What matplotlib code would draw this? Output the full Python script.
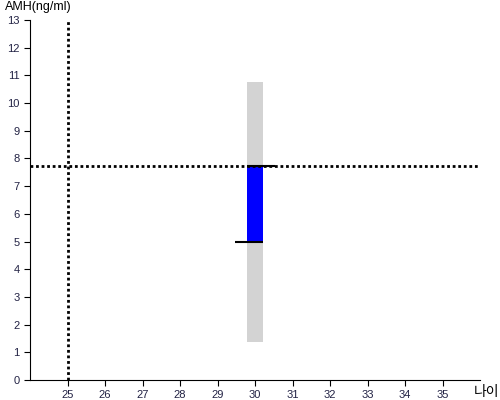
import matplotlib
matplotlib.use("Agg")
import matplotlib.pyplot as plt

plt.rcParams['font.family'] = ['Liberation Sans', 'Noto Sans CJK KR', 'DejaVu Sans']

# data
age = 30
range_low, range_high = 1.38, 10.76
value_low, value_high = 5.0, 7.72
ref_age = 25
ref_amh = 7.72
xticks = list(range(25, 36))
yticks = list(range(0, 14))

fig = plt.figure(figsize=(5, 4), dpi=100)
ax = fig.add_axes([0.06, 0.05, 0.90, 0.90])

ax.bar([age], [range_high - range_low], bottom=[range_low], width=0.42,
       color='#d3d3d3', zorder=1)
ax.bar([age], [value_high - value_low], bottom=[value_low], width=0.42,
       color='#0000ff', zorder=2)
ax.hlines(value_low, age - 0.54, age + 0.21, color='black', lw=1.5, zorder=3)
ax.hlines(value_high, age - 0.21, age + 0.53, color='black', lw=1.5, zorder=3)

ax.axhline(ref_amh, color='black', ls=(0, (1, 1)), lw=2, zorder=4)
ax.axvline(ref_age, color='black', ls=(0, (1, 1)), lw=2, zorder=4)

ax.set_xlim(24, 36)
ax.set_ylim(0, 13)
ax.set_xticks(xticks)
ax.set_yticks(yticks)
ax.tick_params(labelsize=8, length=4, color='black', labelcolor='#222244')
for s in ['top', 'right']:
    ax.spines[s].set_visible(False)

fig.text(0.01, 0.997, 'AMH(ng/ml)', fontsize=9, va='top', ha='left')
fig.text(0.948, 0.02, '나이', fontsize=10, va='center', ha='left')

fig.savefig('out.png', dpi=100)
